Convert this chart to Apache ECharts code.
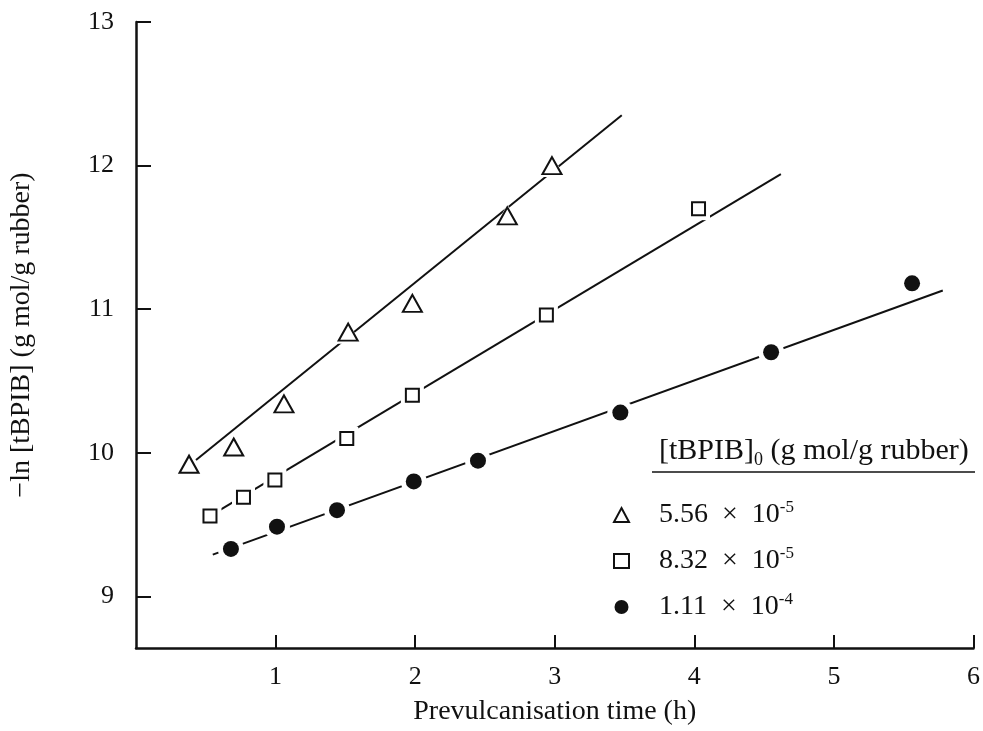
<!DOCTYPE html>
<html>
<head>
<meta charset="utf-8">
<script src="https://cdn.jsdelivr.net/npm/echarts@6/dist/echarts.min.js"></script>
<style>
html,body{margin:0;padding:0;background:#fff;}
#chart{width:983px;height:731px;}
</style>
</head>
<body>
<div id="chart"></div>
<script>
// ---- data ----
const triX = [0.38, 0.70, 1.06, 1.52, 1.98, 2.66, 2.98];
const triY = [9.92, 10.04, 10.34, 10.84, 11.04, 11.65, 12.00];
const sqX = [0.53, 0.77, 0.995, 1.51, 1.98, 2.94, 4.03];
const sqY = [9.56, 9.69, 9.81, 10.10, 10.40, 10.96, 11.70];
const cirX = [0.68, 1.01, 1.44, 1.99, 2.45, 3.47, 4.55, 5.56];
const cirY = [9.33, 9.485, 9.60, 9.80, 9.945, 10.28, 10.70, 11.18];

const triFitX = [0.43, 3.48], triFitY = [9.95, 12.35];
const sqFitX = [0.60, 4.62], sqFitY = [9.60, 11.94];
const cirFitX = [0.55, 5.78], cirFitY = [9.29, 11.13];

const seriesMant = ['5.56', '8.32', '1.11'];
const seriesExp = ['-5', '-5', '-4'];
const xTicks = [1, 2, 3, 4, 5, 6];
const yTicks = [9, 10, 11, 12, 13];

const xName = 'Prevulcanisation time (h)';
const yName = '\u2212ln [tBPIB] (g mol/g rubber)';
const legendHead = ['[tBPIB]', '0', ' (g mol/g rubber)'];

// ---- build ----
const zip = (xs, ys) => xs.map((x, i) => [x, ys[i]]);
const FONT = '"Liberation Serif", "DejaVu Serif", serif';
const INK = '#111';
const names = seriesMant.map((m, i) => m + ' \u00d7 10' + seriesExp[i]);

const markerDefs = [
  {x: triX, y: triY, symbol: 'triangle', size: [19, 17], fill: '#fff', bw: 2, halo: [25, 23]},
  {x: sqX, y: sqY, symbol: 'rect', size: 13, fill: '#fff', bw: 2, halo: 23},
  {x: cirX, y: cirY, symbol: 'circle', size: 16, fill: INK, bw: 0, halo: 26}
];
const fits = [[triFitX, triFitY], [sqFitX, sqFitY], [cirFitX, cirFitY]];

const series = [];
fits.forEach((f, i) => {
  series.push({
    name: 'fit' + i, type: 'line', data: zip(f[0], f[1]), symbol: 'none',
    lineStyle: {color: INK, width: 2}, silent: true, z: 1
  });
});
markerDefs.forEach((m, i) => {
  series.push({
    name: 'halo' + i, type: 'scatter', data: zip(m.x, m.y), symbol: m.symbol,
    symbolSize: m.halo, itemStyle: {color: '#fff', opacity: 1}, silent: true, z: 2
  });
});
markerDefs.forEach((m, i) => {
  series.push({
    name: names[i], type: 'scatter', data: zip(m.x, m.y), symbol: m.symbol,
    symbolSize: m.size,
    itemStyle: {color: m.fill, borderColor: INK, borderWidth: m.bw, opacity: 1},
    z: 3
  });
});

const chart = echarts.init(document.getElementById('chart'), null, {renderer: 'canvas'});
chart.setOption({
  animation: false,
  backgroundColor: '#fff',
  grid: {left: 130, right: 9, top: 22, bottom: 80, containLabel: false},
  xAxis: {
    type: 'value', min: 0, max: 6, interval: 1,
    axisLine: {lineStyle: {color: INK, width: 2.5}},
    axisTick: {inside: true, length: 13, customValues: xTicks, lineStyle: {color: INK, width: 2}},
    axisLabel: {customValues: xTicks, margin: 16, color: INK, fontFamily: FONT, fontSize: 26},
    splitLine: {show: false},
    name: xName, nameLocation: 'middle', nameGap: 50,
    nameTextStyle: {color: INK, fontFamily: FONT, fontSize: 28}
  },
  yAxis: {
    type: 'value', min: 8.64, max: 13,
    axisLine: {lineStyle: {color: INK, width: 2.5}},
    axisTick: {inside: true, length: 15, customValues: yTicks, lineStyle: {color: INK, width: 2}},
    axisLabel: {customValues: yTicks, margin: 22, color: INK, fontFamily: FONT, fontSize: 26},
    splitLine: {show: false},
    name: yName, nameLocation: 'middle', nameGap: 100, nameRotate: 90,
    nameTextStyle: {color: INK, fontFamily: FONT, fontSize: 28}
  },
  legend: {
    data: names, orient: 'vertical', left: 608, top: 494,
    itemWidth: 15, itemHeight: 14, itemGap: 16,
    formatter: function (name) {
      const i = names.indexOf(name);
      return '{n|' + seriesMant[i] + '  \u00d7  10}{s|' + seriesExp[i] + '}';
    },
    textStyle: {
      color: INK, fontFamily: FONT, fontSize: 28, padding: [0, 0, 0, 25],
      rich: {
        n: {fontFamily: FONT, fontSize: 28, lineHeight: 32, color: INK},
        s: {fontFamily: FONT, fontSize: 17, lineHeight: 17, verticalAlign: 'top', color: INK}
      }
    }
  },
  title: {
    text: '{a|' + legendHead[0] + '}{b|' + legendHead[1] + '}{a|' + legendHead[2] + '}',
    left: 659, top: 433, padding: 0,
    textStyle: {
      fontFamily: FONT, fontSize: 30, fontWeight: 'normal', color: INK,
      rich: {
        a: {fontFamily: FONT, fontSize: 30, lineHeight: 36, color: INK},
        b: {fontFamily: FONT, fontSize: 18, lineHeight: 18, verticalAlign: 'bottom', color: INK}
      }
    }
  },
  graphic: [{
    type: 'line', shape: {x1: 652, y1: 472, x2: 975, y2: 472},
    style: {stroke: INK, lineWidth: 1.5}, silent: true
  }],
  series: series
});
</script>
</body>
</html>
